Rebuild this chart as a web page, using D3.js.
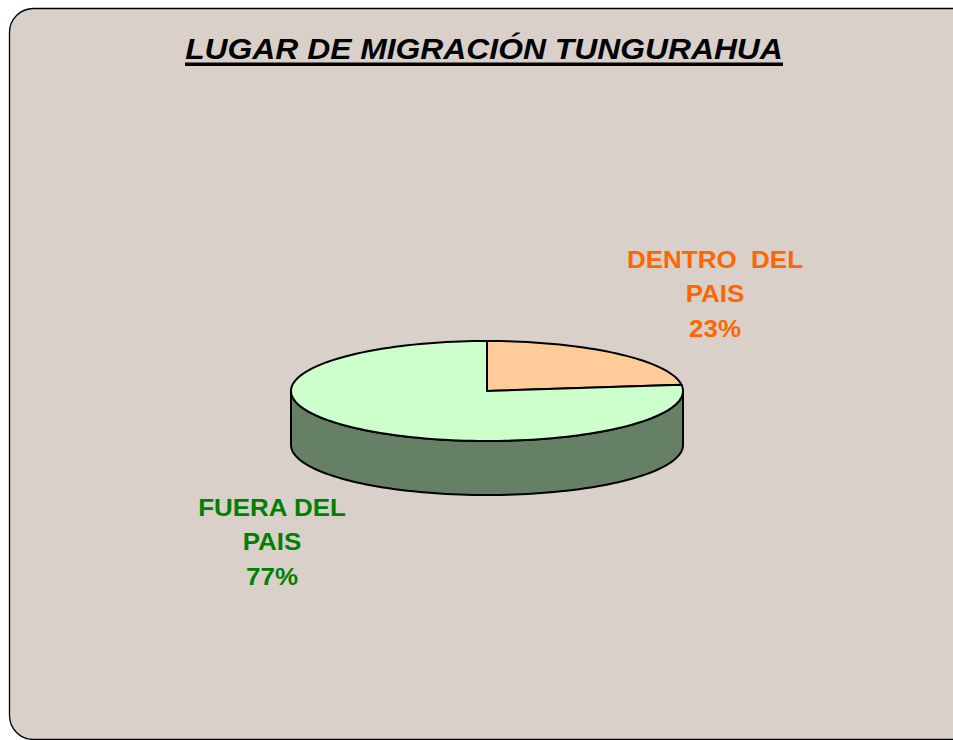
<!DOCTYPE html>
<html>
<head>
<meta charset="utf-8">
<script src="https://cdn.jsdelivr.net/npm/d3@7"></script>
<style>
  html, body { margin: 0; padding: 0; background: #ffffff; overflow: hidden; }
  svg { display: block; }
  text { font-family: "Liberation Sans", Arial, sans-serif; font-weight: bold; }
</style>
</head>
<body>
<div id="svg-container"></div>
<script>
const categories = ['DENTRO  DEL PAIS', 'FUERA DEL PAIS'];
const labelLines = [['DENTRO  DEL', 'PAIS', '23%'], ['FUERA DEL', 'PAIS', '77%']];
const values = [23, 77];
const topColors = ['#ffcc99', '#ccffcc'];
const sideColors = ['#806650', '#668066'];
const labelColors = ['#ff6600', '#008000'];
const title = 'LUGAR DE MIGRACIÓN TUNGURAHUA';

const WIDTH = 953;
const HEIGHT = 740;
const CX = 487;
const CY = 391;
const RX = 196;
const RY = 50;
const DEPTH = 54;
const GLYPH_STRETCH = 1.13;

const svgContainer = document.getElementById('svg-container');
const svg = d3.create('svg').attr('width', WIDTH).attr('height', HEIGHT);
svgContainer.appendChild(svg.node());

// frame
svg
  .append('rect')
  .attr('x', 9.5)
  .attr('y', 8.5)
  .attr('width', 990)
  .attr('height', 731)
  .attr('rx', 24)
  .attr('fill', '#d9d0ca')
  .attr('stroke', '#000')
  .attr('stroke-width', 1.3);

// title, stretched to the reference width
const TITLE_WIDTH = 598;
const titleText = svg
  .append('text')
  .attr('text-anchor', 'middle')
  .attr('font-size', 30)
  .attr('font-style', 'italic')
  .attr('fill', '#000')
  .text(title);
const tLen = titleText.node().getComputedTextLength();
titleText.attr(
  'transform',
  `translate(484, 58.5) scale(${TITLE_WIDTH / tLen}, 1)`
);
svg
  .append('rect')
  .attr('x', 484 - TITLE_WIDTH / 2)
  .attr('y', 62.5)
  .attr('width', TITLE_WIDTH)
  .attr('height', 3.5)
  .attr('fill', '#000');

// pie angles (clockwise from 12 o'clock)
const pie = d3.pie().sort(null).startAngle(0).endAngle(2 * Math.PI);
const arcs = pie(values);

const ex = (a) => CX + RX * Math.sin(a);
const ey = (a) => CY - RY * Math.cos(a);
const line = d3.line();

const sample = (a0, a1) => {
  const n = Math.max(2, Math.ceil(((a1 - a0) / (2 * Math.PI)) * 180));
  return d3.range(n + 1).map((i) => a0 + ((a1 - a0) * i) / n);
};

// sides (front half: PI/2 .. 3PI/2)
arcs.forEach((d, i) => {
  const a0 = Math.max(d.startAngle, Math.PI / 2);
  const a1 = Math.min(d.endAngle, (3 * Math.PI) / 2);
  if (a1 <= a0) return;
  const angles = sample(a0, a1);
  const pts = angles
    .map((a) => [ex(a), ey(a)])
    .concat(angles.slice().reverse().map((a) => [ex(a), ey(a) + DEPTH]));
  svg
    .append('path')
    .attr('d', line(pts) + 'Z')
    .attr('fill', sideColors[i])
    .attr('stroke', '#000')
    .attr('stroke-width', 2)
    .attr('stroke-linejoin', 'round');
});

// tops
svg
  .append('g')
  .selectAll('path')
  .data(arcs)
  .join('path')
  .attr('d', (d) => {
    const pts = [[CX, CY]].concat(
      sample(d.startAngle, d.endAngle).map((a) => [ex(a), ey(a)])
    );
    return line(pts) + 'Z';
  })
  .attr('fill', (_, i) => topColors[i])
  .attr('stroke', '#000')
  .attr('stroke-width', 2)
  .attr('stroke-linejoin', 'round');

// labels
const labelPos = [
  [715, 268],
  [272, 516],
];
svg
  .append('g')
  .selectAll('text')
  .data(arcs)
  .join('text')
  .attr('text-anchor', 'middle')
  .attr('font-size', 23)
  .attr('fill', (_, i) => labelColors[i])
  .attr(
    'transform',
    (_, i) =>
      `translate(${labelPos[i][0]}, ${labelPos[i][1]}) scale(${GLYPH_STRETCH}, 1)`
  )
  .style('white-space', 'pre')
  .selectAll('tspan')
  .data((d, i) => labelLines[i])
  .join('tspan')
  .attr('x', 0)
  .attr('dy', (_, j) => (j === 0 ? 0 : 34.3))
  .text((d) => d);
</script>
</body>
</html>
